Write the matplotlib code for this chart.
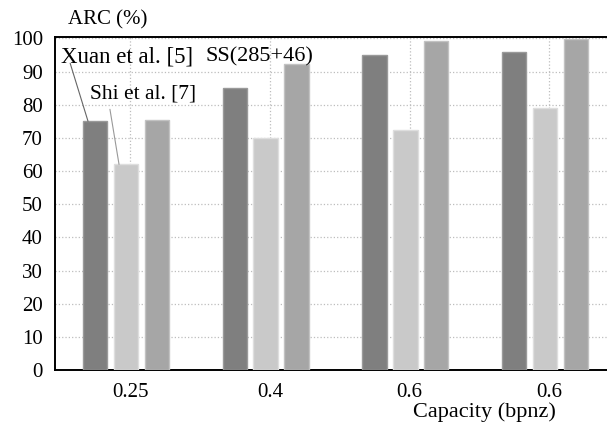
import numpy as np
from matplotlib import pyplot as plt

# data
capacity = ["0.25", "0.4", "0.6", "0.6"]
xuan = [75.0, 85.0, 95.0, 96.0]
shi = [62.0, 70.0, 72.5, 79.0]
ss = [75.5, 92.3, 99.2, 99.8]

plt.rcParams['font.family'] = ['Liberation Serif', 'DejaVu Serif']
font = 15

fig = plt.figure(figsize=(6.07, 4.28), dpi=100)
ax = fig.add_axes([0.0914, 0.1355, 0.9086, 0.778])

x = np.arange(len(capacity))
off = 0.221
w = 0.176
ax.bar(x - off, xuan, w, color='#7f7f7f', edgecolor='#9a9a9a', linewidth=1, zorder=3)
ax.bar(x, shi, w, color='#c9c9c9', edgecolor='#dedede', linewidth=1, zorder=3)
ax.bar(x + off, ss, w, color='#a6a6a6', edgecolor='#c2c2c2', linewidth=1, zorder=3)

ax.set_xlim(-0.505, 3.444)
ax.set_ylim(0, 100.4)
ax.set_yticks(np.arange(0, 101, 10))
ax.set_xticks(x + 0.03)
ax.set_xticklabels(capacity)
ax.tick_params(axis='both', length=0, labelsize=font, pad=9)

ax.grid(True, linestyle=':', color='#bdbdbd', linewidth=0.9, zorder=0)
ax.set_axisbelow(True)
for s in ['left', 'bottom', 'top']:
    ax.spines[s].set_linewidth(1.4)
    ax.spines[s].set_color('black')
ax.spines['right'].set_visible(False)

# labels on the bars of the first group
ax.text(-0.465, 94.5, "Xuan et al. [5]", fontsize=16.5, ha='left', va='center')
ax.text(-0.258, 83.2, "Shi et al. [7]", fontsize=15.5, ha='left', va='center')
ax.text(0.566, 94.5, "SS(285+46)", fontsize=16, ha='left', va='center')
ax.annotate('', xy=(-0.272, xuan[0]), xytext=(-0.40, 92.5),
            arrowprops=dict(arrowstyle='-', color='#666666', lw=0.8, shrinkA=0, shrinkB=0))
ax.annotate('', xy=(-0.05, shi[0]), xytext=(-0.115, 78.6),
            arrowprops=dict(arrowstyle='-', color='#999999', lw=0.8, shrinkA=0, shrinkB=0))

fig.text(68 / 607, 1 - 20 / 428, "ARC (%)", fontsize=font, ha='left', va='center')
fig.text(484 / 607, 1 - 412 / 428, "Capacity (bpnz)", fontsize=16, ha='center', va='center')

fig.savefig("out.png", dpi=100)
